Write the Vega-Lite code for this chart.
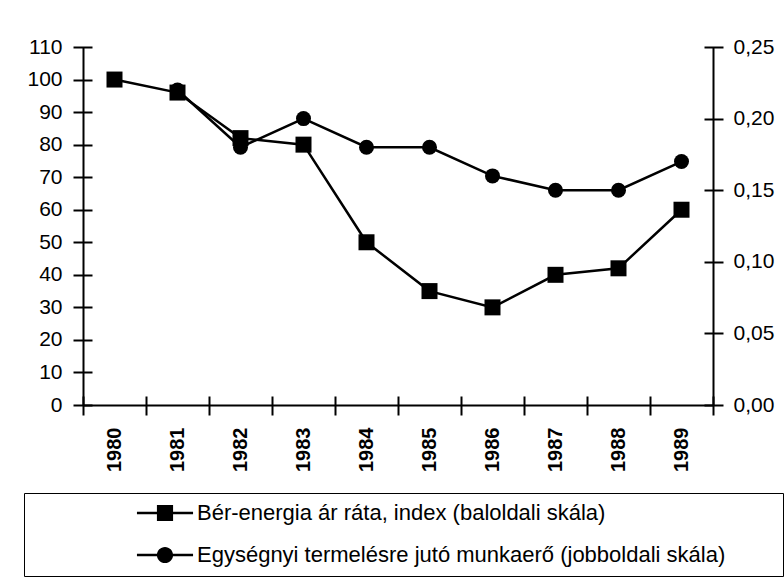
{
  "$schema": "https://vega.github.io/schema/vega-lite/v6.json",
  "width": 630,
  "height": 358,
  "padding": {"left": 23, "top": 36, "right": 0, "bottom": 5},
  "background": "white",
  "config": {
    "view": {"stroke": null},
    "font": "Liberation Sans",
    "axis": {"domainColor": "black", "domainWidth": 2, "tickColor": "black", "tickWidth": 2, "labelColor": "black", "grid": false, "title": null, "labelFont": "Liberation Sans"}
  },
  "datasets": {
    "d": [
      {"year": "1980", "series": "Bér-energia ár ráta, index (baloldali skála)", "value": 100},
      {"year": "1981", "series": "Bér-energia ár ráta, index (baloldali skála)", "value": 96},
      {"year": "1982", "series": "Bér-energia ár ráta, index (baloldali skála)", "value": 82},
      {"year": "1983", "series": "Bér-energia ár ráta, index (baloldali skála)", "value": 80},
      {"year": "1984", "series": "Bér-energia ár ráta, index (baloldali skála)", "value": 50},
      {"year": "1985", "series": "Bér-energia ár ráta, index (baloldali skála)", "value": 35},
      {"year": "1986", "series": "Bér-energia ár ráta, index (baloldali skála)", "value": 30},
      {"year": "1987", "series": "Bér-energia ár ráta, index (baloldali skála)", "value": 40},
      {"year": "1988", "series": "Bér-energia ár ráta, index (baloldali skála)", "value": 42},
      {"year": "1989", "series": "Bér-energia ár ráta, index (baloldali skála)", "value": 60},
      {"year": "1981", "series": "Egységnyi termelésre jutó munkaerő (jobboldali skála)", "value": 0.22},
      {"year": "1982", "series": "Egységnyi termelésre jutó munkaerő (jobboldali skála)", "value": 0.18},
      {"year": "1983", "series": "Egységnyi termelésre jutó munkaerő (jobboldali skála)", "value": 0.20},
      {"year": "1984", "series": "Egységnyi termelésre jutó munkaerő (jobboldali skála)", "value": 0.18},
      {"year": "1985", "series": "Egységnyi termelésre jutó munkaerő (jobboldali skála)", "value": 0.18},
      {"year": "1986", "series": "Egységnyi termelésre jutó munkaerő (jobboldali skála)", "value": 0.16},
      {"year": "1987", "series": "Egységnyi termelésre jutó munkaerő (jobboldali skála)", "value": 0.15},
      {"year": "1988", "series": "Egységnyi termelésre jutó munkaerő (jobboldali skála)", "value": 0.15},
      {"year": "1989", "series": "Egységnyi termelésre jutó munkaerő (jobboldali skála)", "value": 0.17}
    ]
  },
  "data": {"name": "d"},
  "encoding": {
    "x": {"field": "year", "type": "ordinal", "scale": {"type": "band", "paddingInner": 0, "paddingOuter": 0}}
  },
  "layer": [
    {
      "transform": [{"filter": "datum.series === 'Bér-energia ár ráta, index (baloldali skála)'"}],
      "encoding": {
        "x": {"field": "year", "type": "ordinal", "scale": {"type": "band", "paddingInner": 0, "paddingOuter": 0},
          "axis": {"orient": "bottom", "tickBand": "extent", "tickSize": 19, "offset": -9, "domain": false, "labelAngle": -90, "labelFontSize": 20, "labelFontWeight": "bold", "labelPadding": 12}},
        "y": {"field": "value", "type": "quantitative", "scale": {"domain": [0, 110], "nice": false, "zero": true},
          "axis": {"orient": "left", "values": [0, 10, 20, 30, 40, 50, 60, 70, 80, 90, 100, 110], "tickSize": 19, "offset": -9, "domain": false, "labelFontSize": 21, "labelPadding": 11}}
      },
      "layer": [
        {"mark": {"type": "line", "color": "black", "strokeWidth": 2.5}},
        {"mark": {"type": "point", "shape": "square", "filled": true, "color": "black", "size": 256, "opacity": 1}}
      ]
    },
    {
      "transform": [{"filter": "datum.series !== 'Bér-energia ár ráta, index (baloldali skála)'"}],
      "encoding": {
        "x": {"field": "year", "type": "ordinal", "axis": null},
        "y": {"field": "value", "type": "quantitative", "scale": {"domain": [0, 0.25], "nice": false},
          "axis": {"orient": "right", "values": [0, 0.05, 0.1, 0.15, 0.2, 0.25], "labelExpr": "replace(format(datum.value, '.2f'), '.', ',')", "tickSize": 19, "offset": -9, "domain": false, "labelFontSize": 21, "labelPadding": 10}}
      },
      "layer": [
        {"mark": {"type": "line", "color": "black", "strokeWidth": 2.5}},
        {"mark": {"type": "point", "shape": "circle", "filled": true, "color": "black", "size": 225, "opacity": 1}}
      ]
    },
    {
      "transform": [{"filter": "datum.series === 'Bér-energia ár ráta, index (baloldali skála)'"}],
      "mark": {"type": "point", "filled": true},
      "encoding": {
        "x": {"field": "year", "type": "ordinal",
          "axis": {"orient": "bottom", "ticks": false, "labels": false, "domain": true}},
        "y": {"field": "value", "type": "quantitative", "scale": {"domain": [0, 110], "nice": false},
          "axis": {"orient": "left", "ticks": false, "labels": false, "domain": true}},
        "opacity": {"value": 0},
        "fill": {"value": "black"},
        "shape": {"field": "series", "type": "nominal",
          "scale": {"domain": ["Bér-energia ár ráta, index (baloldali skála)", "Egységnyi termelésre jutó munkaerő (jobboldali skála)"],
            "range": ["M-3.3,-0.15H3.3V0.15H-3.3ZM-0.95,-0.95H0.95V0.95H-0.95Z", "M-3.3,-0.15H3.3V0.15H-3.3ZM0.95,0A0.95,0.95,0,1,1,-0.95,0A0.95,0.95,0,1,1,0.95,0Z"]},
          "legend": {"orient": "none", "legendX": -59, "legendY": 446, "title": " ", "titleFontSize": 1, "titleOrient": "left", "titlePadding": 121,
            "strokeColor": "black", "padding": 9, "symbolSize": 289, "symbolFillColor": "black",
            "labelFontSize": 22, "labelFont": "Liberation Sans", "labelColor": "black", "labelOffset": 21, "labelLimit": 0, "rowPadding": 18, "fillColor": "white",
            "labelExpr": "datum.label + '\u2800\u2800\u2800'"}}
      }
    },
    {
      "transform": [{"filter": "datum.series !== 'Bér-energia ár ráta, index (baloldali skála)'"}],
      "mark": {"type": "point", "filled": true},
      "encoding": {
        "x": {"field": "year", "type": "ordinal", "axis": null},
        "y": {"field": "value", "type": "quantitative", "scale": {"domain": [0, 0.25], "nice": false},
          "axis": {"orient": "right", "ticks": false, "labels": false, "domain": true}},
        "opacity": {"value": 0},
        "fill": {"value": "black"},
        "shape": {"field": "series", "type": "nominal"}
      }
    }
  ],
  "resolve": {"scale": {"y": "independent"}, "axis": {"y": "independent", "x": "independent"}}
}
